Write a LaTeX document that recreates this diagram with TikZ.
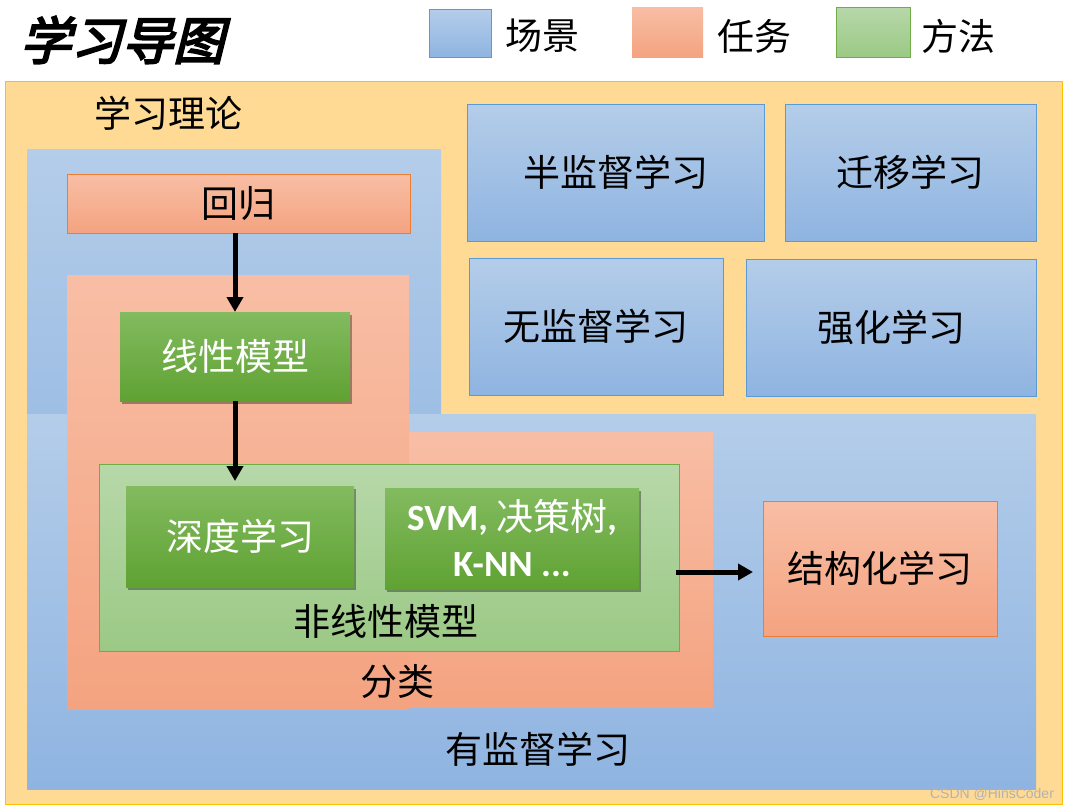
\documentclass[tikz,border=0pt]{standalone}
\usepackage{fontspec}
\setmainfont{Noto Sans CJK SC}
\newfontfamily\titlefont[FakeSlant=0.25,FakeBold=4]{Noto Sans CJK SC}
\newfontfamily\calibri{Carlito}
\newfontfamily\wmfont{Liberation Sans}
\usetikzlibrary{arrows.meta,shadows}
\definecolor{ylfill}{HTML}{FFDA95}
\definecolor{ylborder}{HTML}{FFC000}
\definecolor{btop}{HTML}{B4CDE9}
\definecolor{bbot}{HTML}{8FB4E1}
\definecolor{bborder}{HTML}{5B9BD5}
\definecolor{otop}{HTML}{F8BEA5}
\definecolor{obot}{HTML}{F4A380}
\definecolor{oborder}{HTML}{ED7D31}
\definecolor{gtop}{HTML}{83BB60}
\definecolor{gbot}{HTML}{5FA232}
\definecolor{lgtop}{HTML}{B7D8A9}
\definecolor{lgbot}{HTML}{9BC985}
\definecolor{lgborder}{HTML}{70AD47}
\begin{document}
\begin{tikzpicture}[x=1pt,y=-1pt,
  lbl/.style={inner sep=0pt, font=\fontsize{37}{44}\selectfont},
  bluebox/.style={draw=bborder, line width=0.8pt, top color=btop, bottom color=bbot, inner sep=0pt, outer sep=0pt, font=\fontsize{37}{44}\selectfont},
  orangebox/.style={draw=oborder, line width=0.8pt, top color=otop, bottom color=obot, inner sep=0pt, outer sep=0pt, font=\fontsize{37}{44}\selectfont},
  greenbtn/.style={top color=gtop, bottom color=gbot, inner sep=0pt, outer sep=0pt, text=white, font=\fontsize{37}{44}\selectfont,
    drop shadow={shadow xshift=1.5pt, shadow yshift=-2.5pt, fill=black, opacity=0.35}},
  lightgreen/.style={draw=lgborder, line width=0.8pt, top color=lgtop, bottom color=lgbot, inner sep=0pt, outer sep=0pt},
  arrtip/.tip={Triangle[length=15pt,width=16pt]},
  arrline/.style={line width=5pt, -arrtip}
]
\useasboundingbox (0,0) rectangle (1068,809);
\fill[white] (0,0) rectangle (1068,809);

% title
\node[inner sep=0pt, font=\titlefont\fontsize{51}{56}\selectfont] (title) at (122,40) {学习导图};

% legend
\node[draw=bborder, line width=0.8pt, top color=btop, bottom color=bbot, minimum width=62, minimum height=48, inner sep=0pt] (legb) at (460,33) {};
\node[lbl] (legbt) at (542,36) {场景};
\node[top color=otop, bottom color=obot, minimum width=71, minimum height=50, inner sep=0pt] (lego) at (667.5,32) {};
\node[lbl] (legot) at (754,36) {任务};
\node[draw=lgborder, line width=0.8pt, top color=lgtop, bottom color=lgbot, minimum width=74, minimum height=50, inner sep=0pt] (legg) at (873,32) {};
\node[lbl] (leggt) at (958,36) {方法};

% outer region
\filldraw[fill=ylfill, draw=ylborder, line width=1pt] (5,81) rectangle (1062,804);
\node[lbl] (theory) at (168,113) {学习理论};

% supervised learning region (L shape)
\shade[top color=btop, bottom color=bbot!60!btop] (27,149) rectangle (441,414);
\shade[top color=btop, bottom color=bbot] (27,414) rectangle (1036,789);
\node[lbl] (sup) at (538,749) {有监督学习};

% classification region (L shape)
\shade[top color=otop, bottom color=obot] (409,432) rectangle (713,707);
\shade[top color=otop, bottom color=obot] (67,275) rectangle (409,709);
\node[lbl] (cls) at (397,682) {分类};

% regression
\node[orangebox, minimum width=343, minimum height=59] (reg) at (238.5,203.5) {回归};

% linear model
\node[greenbtn, minimum width=230, minimum height=89] (lin) at (235,356.5) {线性模型};

% nonlinear model
\node[lightgreen, minimum width=580, minimum height=187] (nonlin) at (389,557.5) {};
\node[lbl] (nonlint) at (386,621) {非线性模型};
\node[greenbtn, minimum width=228, minimum height=101] (deep) at (240,536.5) {深度学习};
\node[greenbtn, minimum width=254, minimum height=101, align=center, font=\fontsize{37}{46}\selectfont] (svm) at (512,538.5)
  {{\calibri\bfseries SVM, }决策树{\calibri\bfseries ,}\\{\calibri\bfseries K-NN ...}};

% structured learning
\node[orangebox, minimum width=234, minimum height=135] (struct) at (880,568.5) {结构化学习};

% other scenarios
\node[bluebox, minimum width=297, minimum height=137] (semi) at (615.5,172.5) {半监督学习};
\node[bluebox, minimum width=251, minimum height=137] (trans) at (910.5,172.5) {迁移学习};
\node[bluebox, minimum width=254, minimum height=137] (unsup) at (596,326.5) {无监督学习};
\node[bluebox, minimum width=290, minimum height=137] (rl) at (891,327.5) {强化学习};

% arrows
\draw[arrline] (reg.south -| lin.north) -- (lin.north);
\draw[arrline, shorten >=5pt] (lin.south) -- (lin.south |- deep.north);
\coordinate (sa) at (676,572);
\draw[arrline, shorten >=10pt] (sa) -- (sa -| struct.west);

% watermark
\node[inner sep=0pt, text=black!30, font=\wmfont\fontsize{14}{16}\selectfont] (wm) at (992,794) {CSDN @HinsCoder};
\end{tikzpicture}
\end{document}
